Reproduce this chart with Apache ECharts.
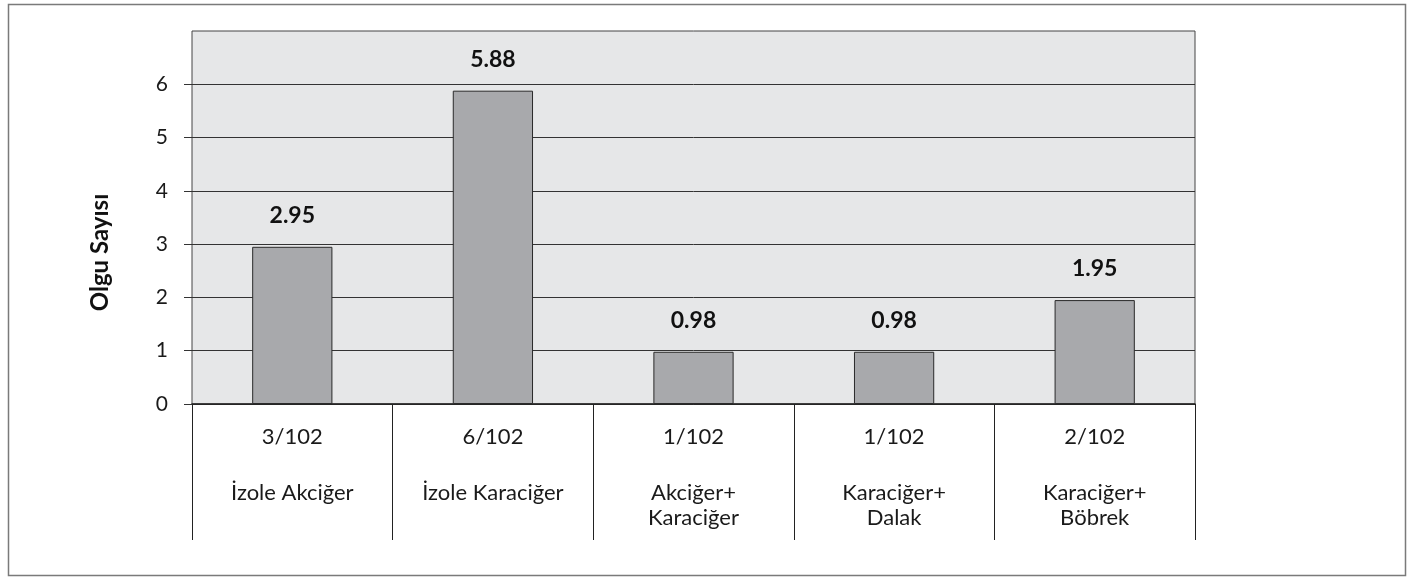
<!DOCTYPE html>
<html>
<head>
<meta charset="utf-8">
<script src="https://cdn.jsdelivr.net/npm/echarts@6/dist/echarts.min.js"></script>
<style>
  html, body { margin: 0; padding: 0; background: #fff; }
  #chart { width: 1410px; height: 577px; }
</style>
</head>
<body>
<div id="chart"></div>
<script>
// data
const categories = ['İzole Akciğer', 'İzole Karaciğer', 'Akciğer+\nKaraciğer', 'Karaciğer+\nDalak', 'Karaciğer+\nBöbrek'];
const ratios = ['3/102', '6/102', '1/102', '1/102', '2/102'];
const values = [2.95, 5.88, 0.98, 0.98, 1.95];
const yTicks = [0, 1, 2, 3, 4, 5, 6];

const FONT = 'Lato, "Open Sans", sans-serif';

let myChart = echarts.init(document.getElementById('chart'));
myChart.setOption({
  animation: false,
  textStyle: { fontFamily: FONT },
  graphic: [{
    type: 'rect',
    shape: { x: 8.5, y: 4.5, width: 1397, height: 571 },
    style: { fill: 'none', stroke: '#7a7a7a', lineWidth: 1.5 },
    silent: true
  }],
  grid: {
    left: 192,
    top: 31,
    right: 215,
    bottom: 173,
    show: true,
    backgroundColor: '#e6e7e8',
    borderColor: '#444',
    borderWidth: 1
  },
  xAxis: {
    type: 'category',
    data: categories,
    boundaryGap: true,
    axisLine: { show: true, lineStyle: { color: '#222', width: 1.5 } },
    axisTick: {
      show: true,
      interval: 0,
      length: 136,
      lineStyle: { color: '#222', width: 1 }
    },
    axisLabel: {
      interval: 0,
      margin: 20,
      color: '#1a1a1a',
      fontFamily: FONT,
      formatter: function (value, idx) {
        // ratio on top, blank spacer, then the (possibly two-line) name
        let lines = value.split('\n').map(s => '{n|' + s + '}').join('\n');
        return '{r|' + ratios[idx] + '}\n{s| }\n' + lines;
      },
      rich: {
        r: { fontSize: 22, lineHeight: 26, color: '#1a1a1a', fontFamily: FONT },
        s: { fontSize: 10, lineHeight: 30 },
        n: { fontSize: 22, lineHeight: 25.6, color: '#1a1a1a', fontFamily: FONT }
      }
    }
  },
  yAxis: {
    type: 'value',
    min: 0,
    max: 7,
    interval: 1,
    name: 'Olgu Sayısı',
    nameLocation: 'middle',
    nameRotate: 90,
    nameGap: 80,
    nameTextStyle: {
      fontSize: 24,
      fontWeight: 'bold',
      color: '#111',
      fontFamily: FONT,
      padding: [0, 70, 0, 0]
    },
    axisLine: { show: false },
    axisTick: { show: true, length: 8, customValues: yTicks, lineStyle: { color: '#333' } },
    axisLabel: {
      margin: 24,
      fontSize: 21,
      color: '#1a1a1a',
      fontFamily: FONT,
      customValues: yTicks
    },
    splitLine: { lineStyle: { color: '#333', width: 1 } }
  },
  series: [{
    type: 'bar',
    data: values,
    barWidth: '40%',
    itemStyle: { color: '#a8a9ac', borderColor: '#2a2a2a', borderWidth: 1 },
    label: {
      show: true,
      position: 'top',
      distance: 20,
      fontSize: 23,
      fontWeight: 'bold',
      color: '#111',
      fontFamily: FONT,
      formatter: p => p.value.toFixed(2)
    }
  }]
});
</script>
</body>
</html>
